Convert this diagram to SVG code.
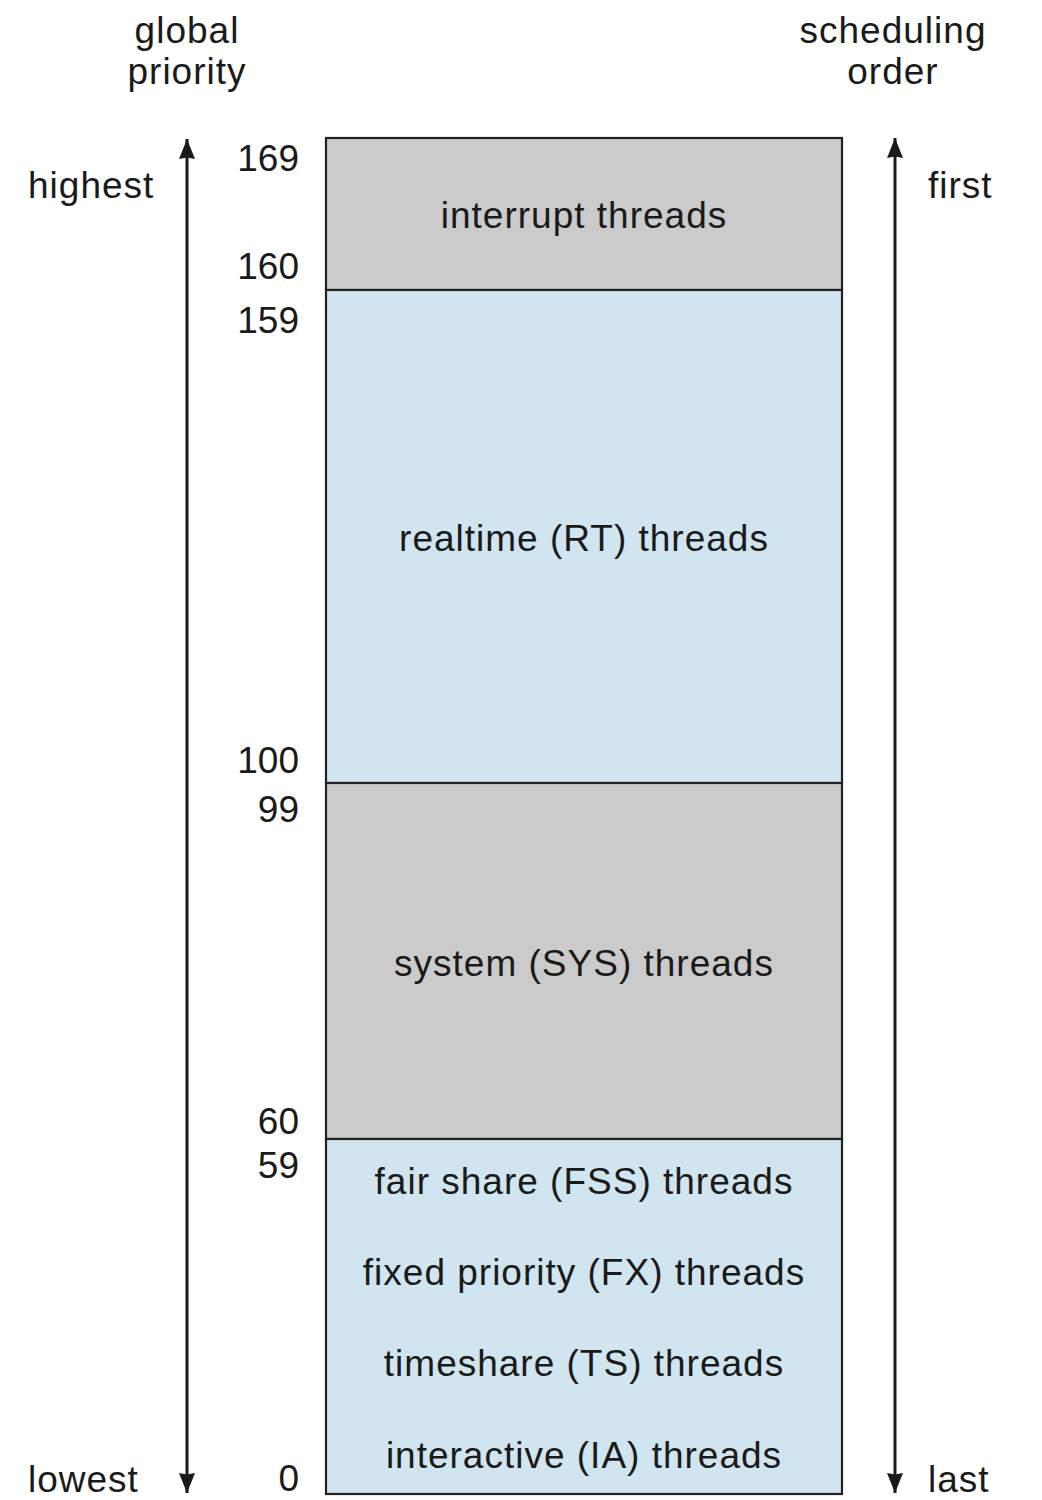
<svg xmlns="http://www.w3.org/2000/svg" width="1042" height="1500" viewBox="0 0 1042 1500">
<style>
text{font-family:"Liberation Sans",Arial,sans-serif;font-size:37px;fill:#1a1a1a;letter-spacing:1px}
.n{letter-spacing:0}
.c{text-anchor:middle}
.r{text-anchor:end}
.band{stroke:#222;stroke-width:2.2}
.gray{fill:#cbcbcb}
.blue{fill:#d0e5ef}
.ax{stroke:#1a1a1a;stroke-width:3;fill:none}
</style>
<defs>
<marker id="a2" viewBox="0 0 20 16" refX="20" refY="8" markerWidth="20" markerHeight="16" markerUnits="userSpaceOnUse" orient="auto">
<path d="M0,0 L20,8 L0,16 L1.5,8 Z" fill="#1a1a1a"/>
</marker>
</defs>
<g id="headers">
<text class="c" x="187" y="43">global</text>
<text class="c" x="187" y="84">priority</text>
<text class="c" x="893" y="43">scheduling</text>
<text class="c" x="893" y="84">order</text>
<text x="28" y="198">highest</text>
<text x="28" y="1492">lowest</text>
<text x="928" y="198">first</text>
<text x="928" y="1492">last</text>
</g>
<g id="numbers">
<text class="r n" x="299" y="171">169</text>
<text class="r n" x="299" y="279">160</text>
<text class="r n" x="299" y="333">159</text>
<text class="r n" x="299" y="773">100</text>
<text class="r n" x="299" y="822">99</text>
<text class="r n" x="299" y="1134">60</text>
<text class="r n" x="299" y="1178">59</text>
<text class="r n" x="299" y="1491">0</text>
</g>
<g id="interrupt">
<rect class="band gray" x="326" y="138" width="516" height="152"/>
<text class="c" x="584" y="228">interrupt threads</text>
</g>
<g id="realtime">
<rect class="band blue" x="326" y="290" width="516" height="493"/>
<text class="c" x="584" y="551">realtime (RT) threads</text>
</g>
<g id="system">
<rect class="band gray" x="326" y="783" width="516" height="356"/>
<text class="c" x="584" y="976">system (SYS) threads</text>
</g>
<g id="user">
<rect class="band blue" x="326" y="1139" width="516" height="355"/>
<text class="c" x="584" y="1194">fair share (FSS) threads</text>
<text class="c" x="584" y="1285">fixed priority (FX) threads</text>
<text class="c" x="584" y="1376">timeshare (TS) threads</text>
<text class="c" x="584" y="1468">interactive (IA) threads</text>
</g>
<g id="connectors">
<line class="ax" x1="187" y1="816" x2="187" y2="139" marker-end="url(#a2)"/>
<line class="ax" x1="187" y1="816" x2="187" y2="1493" marker-end="url(#a2)"/>
<line class="ax" x1="895" y1="816" x2="895" y2="138" marker-end="url(#a2)"/>
<line class="ax" x1="895" y1="816" x2="895" y2="1493" marker-end="url(#a2)"/>
</g>
</svg>
